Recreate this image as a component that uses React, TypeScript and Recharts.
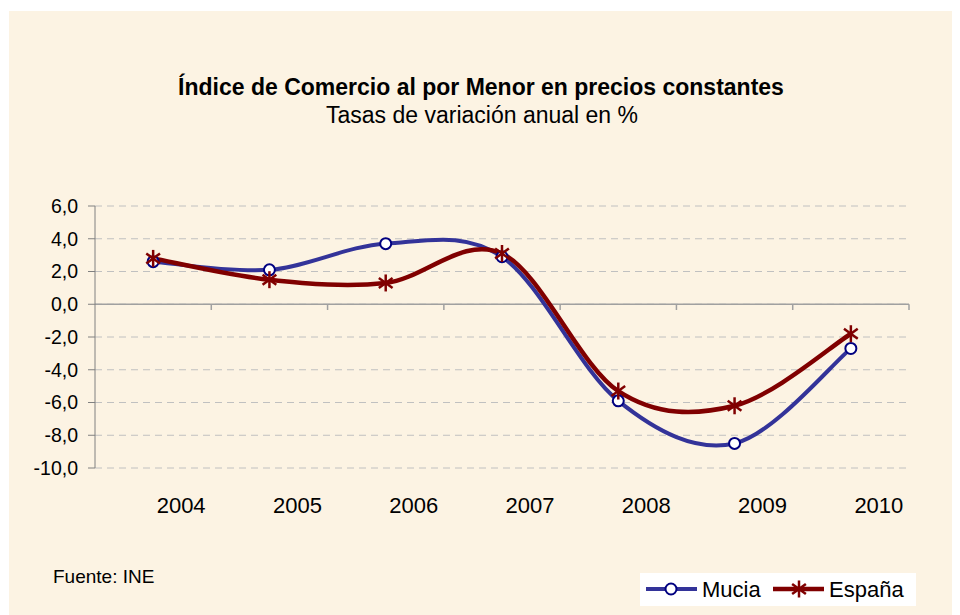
import React from "react";
import {
  CartesianGrid,
  LineChart,
  Line,
  ReferenceLine,
  XAxis,
  YAxis,
} from "recharts";

const years = ["2004", "2005", "2006", "2007", "2008", "2009", "2010"];
const mucia = [2.6, 2.1, 3.7, 2.9, -5.9, -8.5, -2.7];
const espana = [2.8, 1.5, 1.3, 3.1, -5.3, -6.2, -1.8];
const yTicks = [-10, -8, -6, -4, -2, 0, 2, 4, 6];
const xCenters = [0.5, 1.5, 2.5, 3.5, 4.5, 5.5, 6.5];
const boundaries = [1, 2, 3, 4, 5, 6, 7];

const BG = "#FCF3E3";
const BLUE = "#333399";
const NAVY = "#000080";
const RED = "#800000";
const FONT = "'Liberation Sans', Arial, sans-serif";

const data = years.map((year, i) => ({
  x: xCenters[i],
  year,
  mucia: mucia[i],
  espana: espana[i],
}));

// Excel-like smoothed line (Catmull-Rom through the points)
function smoothCurve(context: any) {
  let pts: [number, number][] = [];
  return {
    areaStart() {},
    areaEnd() {},
    lineStart() {
      pts = [];
    },
    point(x: number, y: number) {
      pts.push([+x, +y]);
    },
    lineEnd() {
      const n = pts.length;
      if (!n) return;
      context.moveTo(pts[0][0], pts[0][1]);
      for (let i = 0; i < n - 1; i++) {
        const p0 = pts[Math.max(i - 1, 0)];
        const p1 = pts[i];
        const p2 = pts[i + 1];
        const p3 = pts[Math.min(i + 2, n - 1)];
        context.bezierCurveTo(
          p1[0] + (p2[0] - p0[0]) / 6,
          p1[1] + (p2[1] - p0[1]) / 6,
          p2[0] - (p3[0] - p1[0]) / 6,
          p2[1] - (p3[1] - p1[1]) / 6,
          p2[0],
          p2[1],
        );
      }
    },
  };
}

function Star({ cx, cy, s = 8.5 }: { cx: number; cy: number; s?: number }) {
  const a = s * Math.cos(Math.PI / 5);
  const b = s * Math.sin(Math.PI / 5);
  return (
    <g stroke={RED} strokeWidth={2.5}>
      <line x1={cx} y1={cy - s} x2={cx} y2={cy + s} />
      <line x1={cx - a} y1={cy - b} x2={cx + a} y2={cy + b} />
      <line x1={cx - a} y1={cy + b} x2={cx + a} y2={cy - b} />
    </g>
  );
}

const StarDot = (props: any) => {
  const { cx, cy, index } = props;
  if (cx == null || cy == null) return <g key={index} />;
  return <Star key={index} cx={cx} cy={cy} />;
};

const YearTick = (props: any) => {
  const { x, y, payload } = props;
  const i = xCenters.indexOf(payload.value);
  return (
    <text
      x={x + 28}
      y={y + 37}
      textAnchor="middle"
      fontSize={22}
      fontFamily={FONT}
      fill="#000"
    >
      {years[i]}
    </text>
  );
};

const fmt = (v: number) => v.toFixed(1).replace(".", ",");

export default function App() {
  return (
    <div
      style={{
        position: "relative",
        width: 951,
        height: 604,
        marginLeft: 1,
        marginTop: 3,
        background: BG,
        fontFamily: FONT,
      }}
    >
      <svg
        width={951}
        height={604}
        style={{ position: "absolute", left: 0, top: 0, pointerEvents: "none" }}
      >
        <text
          x={472}
          y={84}
          textAnchor="middle"
          fontSize={23}
          fontWeight="bold"
          fontFamily={FONT}
        >
          Índice de Comercio al por Menor en precios constantes
        </text>
        <text x={473} y={112} textAnchor="middle" fontSize={23} fontFamily={FONT}>
          Tasas de variación anual en %
        </text>
        <text x={44} y={572} fontSize={19} fontFamily={FONT}>
          Fuente: INE
        </text>
      </svg>
      <LineChart
        width={951}
        height={604}
        data={data}
        margin={{ top: 195, right: 51, bottom: 87, left: 0 }}
      >
        <CartesianGrid
          vertical={false}
          stroke="#C0C0C0"
          strokeDasharray="7 5"
        />
        <XAxis
          dataKey="x"
          type="number"
          domain={[0, 7]}
          ticks={xCenters}
          axisLine={false}
          tickLine={false}
          height={60}
          tick={<YearTick />}
          interval={0}
        />
        <YAxis
          domain={[-10, 6]}
          ticks={yTicks}
          width={86}
          stroke="#808080"
          tickFormatter={fmt}
          tick={{ fill: "#000", fontSize: 19.5, fontFamily: FONT }}
          tickSize={7}
          tickMargin={10}
        />
        <ReferenceLine y={0} stroke="#A0A0A0" strokeWidth={1.5} />
        {boundaries.map((b) => (
          <ReferenceLine
            key={b}
            stroke="#A0A0A0"
            strokeWidth={1.5}
            segment={[
              { x: b, y: 0 },
              { x: b, y: -0.35 },
            ]}
          />
        ))}
        <Line
          dataKey="mucia"
          type={smoothCurve as any}
          stroke={BLUE}
          strokeWidth={4}
          dot={{ r: 5.5, fill: "#fff", stroke: NAVY, strokeWidth: 2 }}
          activeDot={false}
          isAnimationActive={false}
        />
        <Line
          dataKey="espana"
          type={smoothCurve as any}
          stroke={RED}
          strokeWidth={4.5}
          dot={<StarDot />}
          activeDot={false}
          isAnimationActive={false}
        />
      </LineChart>
      <svg
        width={276}
        height={33}
        style={{ position: "absolute", left: 631, top: 562 }}
      >
        <rect width={276} height={33} fill="#fff" />
        <line x1={6} y1={16} x2={57} y2={16} stroke={BLUE} strokeWidth={4} />
        <circle cx={31} cy={16} r={5.5} fill="#fff" stroke={NAVY} strokeWidth={2} />
        <text x={62} y={24} fontSize={22} fontFamily={FONT}>
          Mucia
        </text>
        <line x1={133} y1={16} x2={184} y2={16} stroke={RED} strokeWidth={4.5} />
        <Star cx={159} cy={16} />
        <text x={189} y={24} fontSize={22} fontFamily={FONT}>
          España
        </text>
      </svg>
    </div>
  );
}
